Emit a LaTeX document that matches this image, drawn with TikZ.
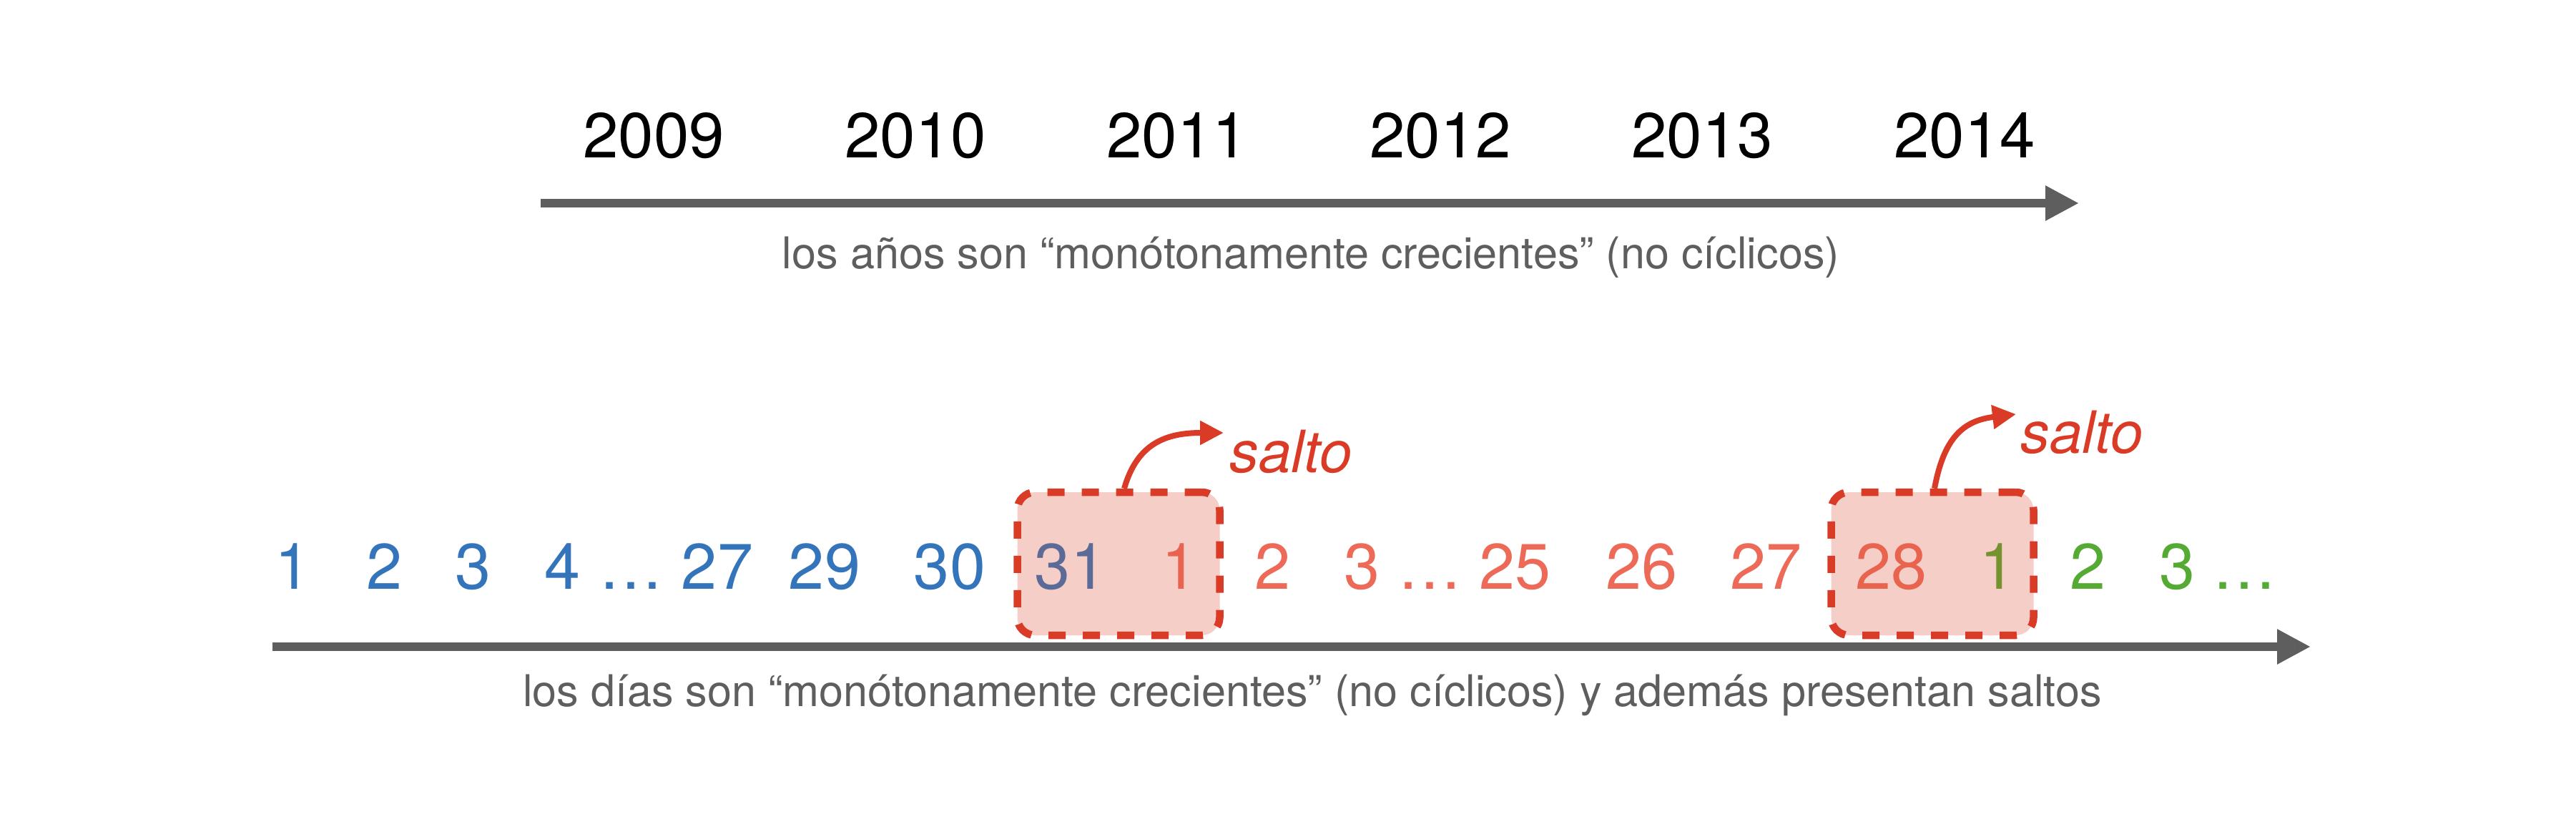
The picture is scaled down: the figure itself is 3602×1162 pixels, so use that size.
\documentclass[tikz,border=0pt]{standalone}
\usepackage{fontspec}
\setmainfont{TeX Gyre Heros}
\usetikzlibrary{arrows.meta}
\definecolor{numblue}{RGB}{52,116,186}
\definecolor{numsalmon}{RGB}{236,106,87}
\definecolor{numgreen}{RGB}{84,170,50}
\definecolor{boxblue}{RGB}{91,106,150}
\definecolor{boxsalmon}{RGB}{232,100,79}
\definecolor{boxgreen}{RGB}{118,146,47}
\definecolor{jred}{RGB}{218,59,38}
\definecolor{jfill}{RGB}{245,206,199}
\definecolor{axisgray}{RGB}{94,94,94}
\tikzset{
  yearlabel/.style={anchor=base, inner sep=0pt, text=black, font=\fontsize{25.3}{30}\selectfont},
  numlabel/.style={anchor=base, inner sep=0pt, font=\fontsize{25.6}{30}\selectfont},
  captext/.style={anchor=base, inner sep=0pt, text=axisgray, font=\fontsize{17.4}{21}\selectfont},
  saltolabel/.style={anchor=base, inner sep=0pt, text=jred, font=\itshape\fontsize{23.2}{28}\selectfont},
  jumpbox/.style={draw=jred, fill=jfill, line width=1.05mm, dash pattern=on 2.4mm off 2.4mm,
    rounded corners=2.5mm, minimum width=28.3mm, minimum height=20mm, inner sep=0pt},
  timeline/.style={draw=axisgray, line width=1.2mm, -{Triangle[length=4.7mm,width=4.6mm]}},
  jumparrow/.style={draw=jred, line width=0.8mm, -{Triangle[length=3.3mm,width=3.2mm]}}
}
\begin{document}
\begin{tikzpicture}[x=0.1mm,y=-0.1mm]
\useasboundingbox (0,0) rectangle (3602,1162);
% years
\node[yearlabel] (y2009) at (914,220) {2009};
\node[yearlabel] (y2010) at (1280,220) {2010};
\node[yearlabel] (y2011) at (1646,220) {2011};
\node[yearlabel] (y2012) at (2014,220) {2012};
\node[yearlabel] (y2013) at (2380,220) {2013};
\node[yearlabel] (y2014) at (2747,220) {2014};
\coordinate (ta) at (756,284);
\coordinate (tb) at (2907,284);
\draw[timeline] (ta) -- (tb);
\node[captext] (capyears) at (1833,375) {los años son “monótonamente crecientes” (no cíclicos)};
% jump boxes
\node[jumpbox] (b1) at (1564,788) {};
\node[jumpbox] (b2) at (2702,788) {};
% numbers
\node[numlabel, text=numblue] (n1) at (410,823) {1};
\node[numlabel, text=numblue] (n2) at (538,823) {2};
\node[numlabel, text=numblue] (n3) at (662,823) {3};
\node[numlabel, text=numblue] (n4) at (787,823) {4};
\node[numlabel, text=numblue] (d1) at (882,823) {…};
\node[numlabel, text=numblue] (n27) at (1003,823) {27};
\node[numlabel, text=numblue] (n29) at (1153,823) {29};
\node[numlabel, text=numblue] (n30) at (1328,823) {30};
\node[numlabel, text=boxblue] (n31) at (1497,823) {31};
\node[numlabel, text=boxsalmon] (m1) at (1649,823) {1};
\node[numlabel, text=numsalmon] (m2) at (1779,823) {2};
\node[numlabel, text=numsalmon] (m3) at (1904,823) {3};
\node[numlabel, text=numsalmon] (d2) at (1999,823) {…};
\node[numlabel, text=numsalmon] (m25) at (2118,823) {25};
\node[numlabel, text=numsalmon] (m26) at (2295,823) {26};
\node[numlabel, text=numsalmon] (m27) at (2469,823) {27};
\node[numlabel, text=boxsalmon] (m28) at (2644,823) {28};
\node[numlabel, text=boxgreen] (g1) at (2793,823) {1};
\node[numlabel, text=numgreen] (g2) at (2919,823) {2};
\node[numlabel, text=numgreen] (g3) at (3044,823) {3};
\node[numlabel, text=numgreen] (d3) at (3138,823) {…};
% jump arrows
\coordinate (t1) at (1711,605);
\coordinate (t2) at (2819,579);
\draw[jumparrow] ([xshift=0.8mm]b1.north) .. controls (1590,620) and (1630,605) .. (t1);
\draw[jumparrow] ([xshift=0.3mm]b2.north) .. controls (2718,612) and (2745,588) .. (t2);
\node[saltolabel] (s1) at (1805,660) {salto};
\node[saltolabel] (s2) at (2911,633) {salto};
% bottom timeline
\coordinate (ba) at (381,904);
\coordinate (bb) at (3231,904);
\draw[timeline] (ba) -- (bb);
\node[captext] (capdays) at (1835,987) {los días son “monótonamente crecientes” (no cíclicos) y además presentan saltos};
\end{tikzpicture}
\end{document}
